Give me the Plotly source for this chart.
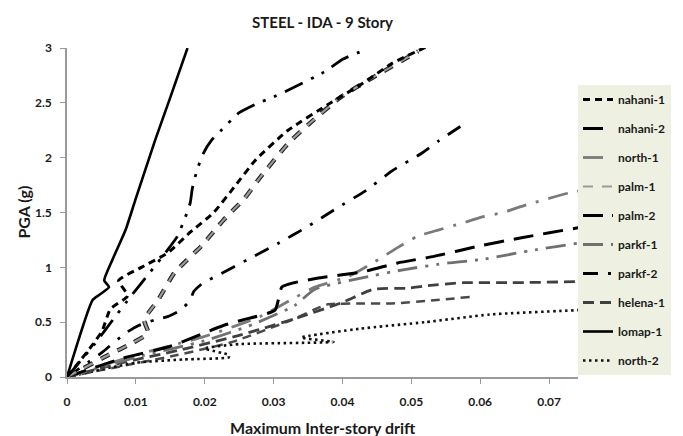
import plotly.graph_objects as go

# ---------------- data (drift, PGA) ----------------
nahani1_x = [0, 0.0033, 0.0051, 0.0063, 0.0088, 0.0075, 0.0108, 0.0146, 0.0179, 0.0213, 0.0245, 0.0274, 0.0321, 0.0383, 0.0430, 0.0472, 0.0525]
nahani1_y = [0, 0.26, 0.42, 0.62, 0.74, 0.88, 1.00, 1.13, 1.32, 1.50, 1.75, 1.98, 2.25, 2.50, 2.68, 2.86, 3.02]

nahani2_x = [0, 0.008, 0.015, 0.0227, 0.0255, 0.0302, 0.0312, 0.0330, 0.0363, 0.0430, 0.0480, 0.0533, 0.0595, 0.0660, 0.0742, 0.0765]
nahani2_y = [0, 0.17, 0.28, 0.47, 0.52, 0.61, 0.82, 0.86, 0.90, 0.96, 1.04, 1.10, 1.19, 1.27, 1.36, 1.38]

north1_x = [0, 0.010, 0.020, 0.028, 0.033, 0.036, 0.041, 0.0444, 0.0480, 0.0508, 0.0539, 0.0572, 0.0603, 0.0633, 0.0667, 0.0730, 0.0765]
north1_y = [0, 0.20, 0.37, 0.55, 0.72, 0.82, 0.92, 1.04, 1.18, 1.28, 1.34, 1.40, 1.46, 1.50, 1.57, 1.68, 1.72]

palm1_x = [0, 0.006, 0.0095, 0.0118, 0.0112, 0.0132, 0.0156, 0.0196, 0.0227, 0.0258, 0.0278, 0.0321, 0.0350, 0.0397, 0.0444, 0.0510]
palm1_y = [0, 0.20, 0.31, 0.40, 0.52, 0.70, 0.95, 1.20, 1.43, 1.63, 1.80, 2.13, 2.30, 2.55, 2.73, 2.97]

palm2_x = [0, 0.004, 0.007, 0.0092, 0.012, 0.0145, 0.016, 0.0172, 0.0179, 0.0182, 0.0189, 0.0198, 0.0210, 0.0224, 0.0250, 0.0278, 0.0295, 0.0326, 0.0373, 0.0401, 0.0432]
palm2_y = [0, 0.30, 0.55, 0.73, 0.95, 1.15, 1.28, 1.46, 1.59, 1.72, 1.89, 2.04, 2.16, 2.25, 2.41, 2.50, 2.54, 2.63, 2.78, 2.90, 2.98]

parkf1_x = [0, 0.010, 0.020, 0.027, 0.033, 0.036, 0.0425, 0.0490, 0.0553, 0.0600, 0.0680, 0.0742, 0.0765]
parkf1_y = [0, 0.18, 0.33, 0.48, 0.65, 0.80, 0.90, 0.98, 1.04, 1.07, 1.16, 1.22, 1.24]

parkf2_x = [0, 0.005, 0.0085, 0.0104, 0.0127, 0.0146, 0.0165, 0.0179, 0.0184, 0.0198, 0.0220, 0.0262, 0.0307, 0.0349, 0.0392, 0.0434, 0.0472, 0.0515, 0.0539, 0.0575]
parkf2_y = [0, 0.22, 0.40, 0.47, 0.52, 0.55, 0.61, 0.70, 0.78, 0.86, 0.93, 1.07, 1.22, 1.37, 1.54, 1.70, 1.88, 2.04, 2.15, 2.30]

helena1_x = [0, 0.008, 0.016, 0.025, 0.033, 0.040, 0.0445, 0.0496, 0.0520, 0.0576, 0.0643, 0.0742, 0.0765]
helena1_y = [0, 0.13, 0.24, 0.38, 0.53, 0.68, 0.80, 0.81, 0.83, 0.86, 0.86, 0.87, 0.88]

lomap1_x = [0, 0.0037, 0.0047, 0.0061, 0.0054, 0.0066, 0.0085, 0.0099, 0.0128, 0.0150, 0.0175]
lomap1_y = [0, 0.70, 0.75, 0.82, 0.88, 1.07, 1.34, 1.61, 2.16, 2.55, 3.00]

north2_x = [0, 0.010, 0.017, 0.0235, 0.0235, 0.0200, 0.0250, 0.0387, 0.0340, 0.0425, 0.0520, 0.0614, 0.0742, 0.0765]
north2_y = [0, 0.13, 0.16, 0.18, 0.20, 0.26, 0.30, 0.32, 0.36, 0.44, 0.50, 0.57, 0.61, 0.62]

extra_x = [0, 0.008, 0.016, 0.024, 0.0326, 0.0377, 0.0426, 0.0472, 0.0533, 0.0586]
extra_y = [0, 0.10, 0.20, 0.32, 0.52, 0.66, 0.67, 0.67, 0.70, 0.73]

x_ticks = [0, 0.01, 0.02, 0.03, 0.04, 0.05, 0.06, 0.07]
x_ticktext = ["0", "0.01", "0.02", "0.03", "0.04", "0.05", "0.06", "0.07"]
y_ticks = [0, 0.5, 1, 1.5, 2, 2.5, 3]
y_ticktext = ["0", "0.5", "1", "1.5", "2", "2.5", "3"]

FONT = "Lato"
order = ["nahani-1", "nahani-2", "north-1", "palm-1", "palm-2", "parkf-1", "parkf-2", "helena-1", "lomap-1", "north-2"]

fig = go.Figure()

def add(name, x, y, color, width, dash, showlegend=True, group=None):
    g = group or name
    fig.add_trace(go.Scatter(
        x=x, y=y, mode="lines", name=name,
        line=dict(color=color, width=width, dash=dash, shape="spline", smoothing=0.5),
        showlegend=showlegend, legendgroup=g,
        legendrank=order.index(g) + 1,
        hoverinfo="skip"))

add("extra", extra_x, extra_y, "#4a4a4a", 2.5, "9px,6px", showlegend=False, group="helena-1")
add("north-2", north2_x, north2_y, "#111111", 2.6, "2.5px,3.5px")
add("helena-1", helena1_x, helena1_y, "#404040", 2.8, "11px,6px")
add("parkf-1", parkf1_x, parkf1_y, "#707070", 2.8, "20px,8px,3px,8px,3px,8px")
add("north-1", north1_x, north1_y, "#7a7a7a", 2.8, "20px,10px,3px,10px")
add("nahani-2", nahani2_x, nahani2_y, "#000000", 3, "20px,10px")
add("parkf-2", parkf2_x, parkf2_y, "#000000", 2.8, "15px,10px,3px,10px")
add("palm-2", palm2_x, palm2_y, "#000000", 2.8, "20px,9px,3px,9px,3px,9px")
# palm-1: grey dashes with dark outline
add("palm-1o", palm1_x, palm1_y, "#222222", 4.4, "10px,9px", showlegend=False, group="palm-1")
add("palm-1", palm1_x, palm1_y, "#9a9a9a", 2.2, "10px,9px")
add("nahani-1", nahani1_x, nahani1_y, "#000000", 3, "7px,5px")
add("lomap-1", lomap1_x, lomap1_y, "#000000", 2.6, "solid")

axis_font = dict(family=FONT, size=12, color="#1a1a1a", weight="bold")
title_font = dict(family=FONT, size=16, color="#1a1a1a", weight="bold")

fig.update_layout(
    width=683, height=436,
    margin=dict(l=67, r=92, t=48, b=59),
    paper_bgcolor="white", plot_bgcolor="white",
    title=dict(text="STEEL - IDA - 9 Story", x=0.5, xref="paper", xanchor="center",
               y=1 - 23/436, yanchor="middle",
               font=dict(family=FONT, size=15, color="#1a1a1a", weight="bold")),
    xaxis=dict(range=[0, 0.0742], tickvals=x_ticks, ticktext=x_ticktext,
               showline=True, linecolor="#9a9a9a", linewidth=1.5,
               ticks="outside", ticklen=5, tickcolor="#9a9a9a", tickwidth=1.2,
               ticklabelstandoff=8, automargin=False,
               showgrid=False, zeroline=False, tickfont=axis_font),
    yaxis=dict(range=[0, 3], tickvals=y_ticks, ticktext=y_ticktext,
               showline=True, linecolor="#9a9a9a", linewidth=1.5,
               ticks="outside", ticklen=5, tickcolor="#9a9a9a", tickwidth=1.2,
               ticklabelstandoff=6, automargin=False,
               showgrid=False, zeroline=False, tickfont=axis_font),
    legend=dict(x=1.0, xanchor="left", y=(377 - 85) / 329, yanchor="top",
                bgcolor="#eef0e1", borderwidth=0, itemwidth=30,
                tracegroupgap=10, traceorder="grouped",
                font=dict(family=FONT, size=12, color="#1a1a1a", weight="bold")),
    annotations=[
        dict(text="Maximum Inter-story drift", xref="paper", yref="paper",
             x=0.5, y=-50/329, xanchor="center", yanchor="middle",
             showarrow=False, font=title_font),
        dict(text="PGA (g)", xref="paper", yref="paper",
             x=-45/524, y=0.5, xanchor="center", yanchor="middle", textangle=-90,
             showarrow=False, font=title_font),
    ],
)

fig.write_html("out.html")
